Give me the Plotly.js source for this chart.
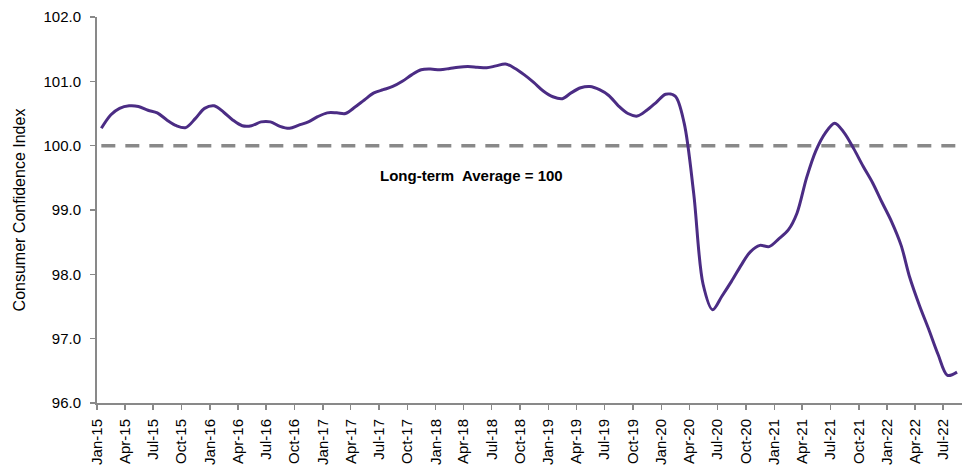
<!DOCTYPE html>
<html>
<head>
<meta charset="utf-8">
<script src="https://cdn.plot.ly/plotly-3.0.1.min.js"></script>
<style>
  html, body { margin: 0; padding: 0; background: #ffffff; }
  #chart { width: 963px; height: 465px; }
</style>
</head>
<body>
<div id="chart"></div>
<script>
// Monthly consumer confidence index, Jan-15 .. Aug-22
const startYear = 2015;
const values2015 = [100.27, 100.48, 100.58, 100.62, 100.61, 100.55, 100.51, 100.40, 100.31, 100.28, 100.42, 100.58];
const values2016 = [100.62, 100.52, 100.40, 100.31, 100.31, 100.37, 100.37, 100.30, 100.27, 100.32, 100.37, 100.45];
const values2017 = [100.51, 100.51, 100.50, 100.60, 100.71, 100.82, 100.87, 100.92, 101.00, 101.10, 101.18, 101.19];
const values2018 = [101.18, 101.20, 101.22, 101.23, 101.22, 101.21, 101.24, 101.27, 101.20, 101.10, 100.98, 100.85];
const values2019 = [100.76, 100.73, 100.82, 100.90, 100.92, 100.87, 100.78, 100.62, 100.50, 100.46, 100.55, 100.67];
const values2020 = [100.80, 100.77, 100.35, 99.25, 97.85, 97.45, 97.66, 97.89, 98.14, 98.35, 98.45, 98.43];
const values2021 = [98.55, 98.69, 98.95, 99.50, 99.92, 100.20, 100.35, 100.20, 99.95, 99.68, 99.42, 99.12];
const values2022 = [98.82, 98.45, 97.95, 97.52, 97.15, 96.75, 96.43, 96.48];

const longTermAverage = 100;
const averageLabel = "Long-term  Average = 100";
const yTitle = "Consumer Confidence Index";

const cci = [].concat(values2015, values2016, values2017, values2018,
                      values2019, values2020, values2021, values2022);

// month dates (mid-month) for each observation
const months = cci.map(function (_, i) {
  const y = startYear + Math.floor(i / 12);
  const m = (i % 12) + 1;
  return y + "-" + (m < 10 ? "0" + m : m) + "-15";
});

const cciTrace = {
  x: months,
  y: cci,
  type: "scatter",
  mode: "lines",
  line: { color: "#4B2C84", width: 3, shape: "spline", smoothing: 0.9 },
  hoverinfo: "x+y",
  showlegend: false
};

const avgTrace = {
  x: [months[0], months[months.length - 1]],
  y: [longTermAverage, longTermAverage],
  type: "scatter",
  mode: "lines",
  line: { color: "#898989", width: 3.5, dash: "14px,10px" },
  hoverinfo: "skip",
  showlegend: false
};

const font = "Liberation Sans, Arial, sans-serif";

const layout = {
  width: 963,
  height: 465,
  margin: { l: 97, r: 1, t: 17, b: 62 },
  paper_bgcolor: "#ffffff",
  plot_bgcolor: "#ffffff",
  font: { family: font, color: "#000000", size: 15 },
  xaxis: {
    type: "date",
    range: ["2015-01-01", "2022-08-31"],
    tick0: "2015-01-01",
    dtick: "M3",
    tickformat: "%b-%y",
    tickangle: -90,
    ticks: "outside",
    ticklen: 5,
    tickwidth: 1.5,
    tickcolor: "#898989",
    ticklabelstandoff: 3,
    showline: true,
    linecolor: "#898989",
    linewidth: 2,
    showgrid: false,
    zeroline: false,
    tickfont: { family: font, size: 15, color: "#000000" }
  },
  yaxis: {
    range: [96, 102],
    dtick: 1,
    tick0: 96,
    tickformat: ".1f",
    ticks: "outside",
    ticklen: 5,
    tickwidth: 1.5,
    tickcolor: "#898989",
    ticklabelstandoff: 6,
    showline: true,
    linecolor: "#898989",
    linewidth: 2,
    showgrid: false,
    zeroline: false,
    tickfont: { family: font, size: 15, color: "#000000" },
    title: { text: yTitle, font: { family: font, size: 16, color: "#000000" }, standoff: 14 }
  },
  annotations: [{
    text: "<b>" + averageLabel + "</b>",
    xref: "paper",
    yref: "y",
    x: 0.433,
    y: 99.54,
    xanchor: "center",
    yanchor: "middle",
    showarrow: false,
    font: { family: font, size: 15, color: "#000000" }
  }]
};

Plotly.newPlot("chart", [avgTrace, cciTrace], layout, { displayModeBar: false, staticPlot: true });
</script>
</body>
</html>
